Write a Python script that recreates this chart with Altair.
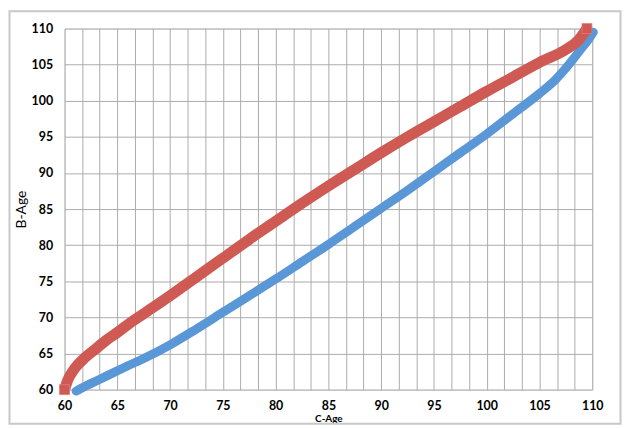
import altair as alt
import pandas as pd

# Red series (B-Age vs C-Age)
red_x = [60, 60.3, 61, 62, 63, 64, 65, 66, 67.5, 70, 72.5, 75, 77.5, 80, 82.5, 85,
         87.5, 90, 92.5, 95, 97.5, 100, 102.5, 105, 107.5, 108.7, 109.5]
red_y = [60, 61.3, 63.0, 64.5, 65.7, 66.9, 67.9, 69.0, 70.5, 73.0, 75.6, 78.2, 80.8,
         83.3, 85.8, 88.2, 90.5, 92.8, 95.0, 97.1, 99.2, 101.3, 103.3, 105.3, 107.1,
         108.4, 110.0]

# Blue series
blue_x = [61.1, 62, 63, 64, 65, 66, 67.5, 70, 72.5, 75, 77.5, 80, 82.5, 85, 87.5, 90,
          92.5, 95, 97.5, 100, 102.5, 105, 106.5, 108, 109, 109.7, 110.1]
blue_y = [59.8, 60.5, 61.2, 61.9, 62.6, 63.3, 64.3, 66.2, 68.4, 70.7, 73.0, 75.3, 77.7,
          80.1, 82.6, 85.1, 87.6, 90.2, 92.8, 95.4, 98.2, 101.0, 102.9, 105.4, 107.3,
          108.6, 109.5]

x_grid = [60 + i * 5 / 3 for i in range(31)]
y_ticks = [60, 65, 70, 75, 80, 85, 90, 95, 100, 105, 110]

RED = "#CF5A54"
BLUE = "#5A97D6"
FONT = "Lato"

red_df = pd.DataFrame({"x": red_x, "y": red_y, "i": range(len(red_x))})
blue_df = pd.DataFrame({"x": blue_x, "y": blue_y, "i": range(len(blue_x))})
red_ends = red_df.iloc[[0, -1]]

W, H = 532, 364

xscale = alt.Scale(domain=[60, 110], nice=False, zero=False)
yscale = alt.Scale(domain=[60, 110], nice=False, zero=False)

xaxis = alt.Axis(
    values=x_grid,
    labelExpr="abs(datum.value/5 - round(datum.value/5)) < 0.01 ? format(datum.value, 'd') : ''",
    grid=True, gridColor="#ABABAB", gridWidth=1, domain=False, ticks=False,
    labelFont=FONT, labelFontSize=12.5, labelFontWeight="bold", labelColor="#000000",
    labelPadding=10, labelFlush=False, labelOverlap=False,
    title="C-Age", titleFont=FONT, titleFontSize=10, titleFontWeight="bold",
    titleColor="#000000", titleX=W / 2, titleY=29, titleBaseline="middle",
)
yaxis = alt.Axis(
    values=y_ticks,
    grid=True, gridColor="#ABABAB", gridWidth=1, domain=False, ticks=False,
    labelFont=FONT, labelFontSize=12.5, labelFontWeight="bold", labelColor="#000000",
    labelPadding=12, labelFlush=False, labelOverlap=False,
    title="B-Age", titleFont=FONT, titleFontSize=14, titleFontWeight="normal",
    titleColor="#000000", titleAngle=270, titleX=-43, titleY=H / 2,
    titleBaseline="middle", titleAlign="center",
)

X = alt.X("x:Q", scale=xscale, axis=xaxis, title="C-Age")
Y = alt.Y("y:Q", scale=yscale, axis=yaxis, title="B-Age")

border = alt.Chart(pd.DataFrame({"a": [0]})).mark_rect(
    fill=None, stroke="#C8C8C8", strokeWidth=2
).encode(
    x=alt.value(-55.5), x2=alt.value(560.5), y=alt.value(-17.5), y2=alt.value(398.5)
)

blue_line = alt.Chart(blue_df).mark_line(
    color=BLUE, strokeWidth=9, strokeCap="round", strokeJoin="round",
    interpolate="monotone",
).encode(x=X, y=Y, order="i:Q")

red_line = alt.Chart(red_df).mark_line(
    color=RED, strokeWidth=11, strokeCap="butt", strokeJoin="round",
    interpolate="monotone",
).encode(x=X, y=Y, order="i:Q")

red_sq = alt.Chart(red_ends).mark_square(
    color=RED, size=100, opacity=1, stroke="#E07A75", strokeWidth=0.8
).encode(x=X, y=Y)

chart = alt.layer(border, blue_line, red_line, red_sq).properties(
    width=W, height=H,
    autosize=alt.AutoSizeParams(type="none"),
    padding={"left": 57, "top": 19, "right": 30, "bottom": 37},
).configure_view(stroke=None).configure(background="#FFFFFF")

chart.save("out.html", embed_options={"renderer": "svg", "actions": False})
